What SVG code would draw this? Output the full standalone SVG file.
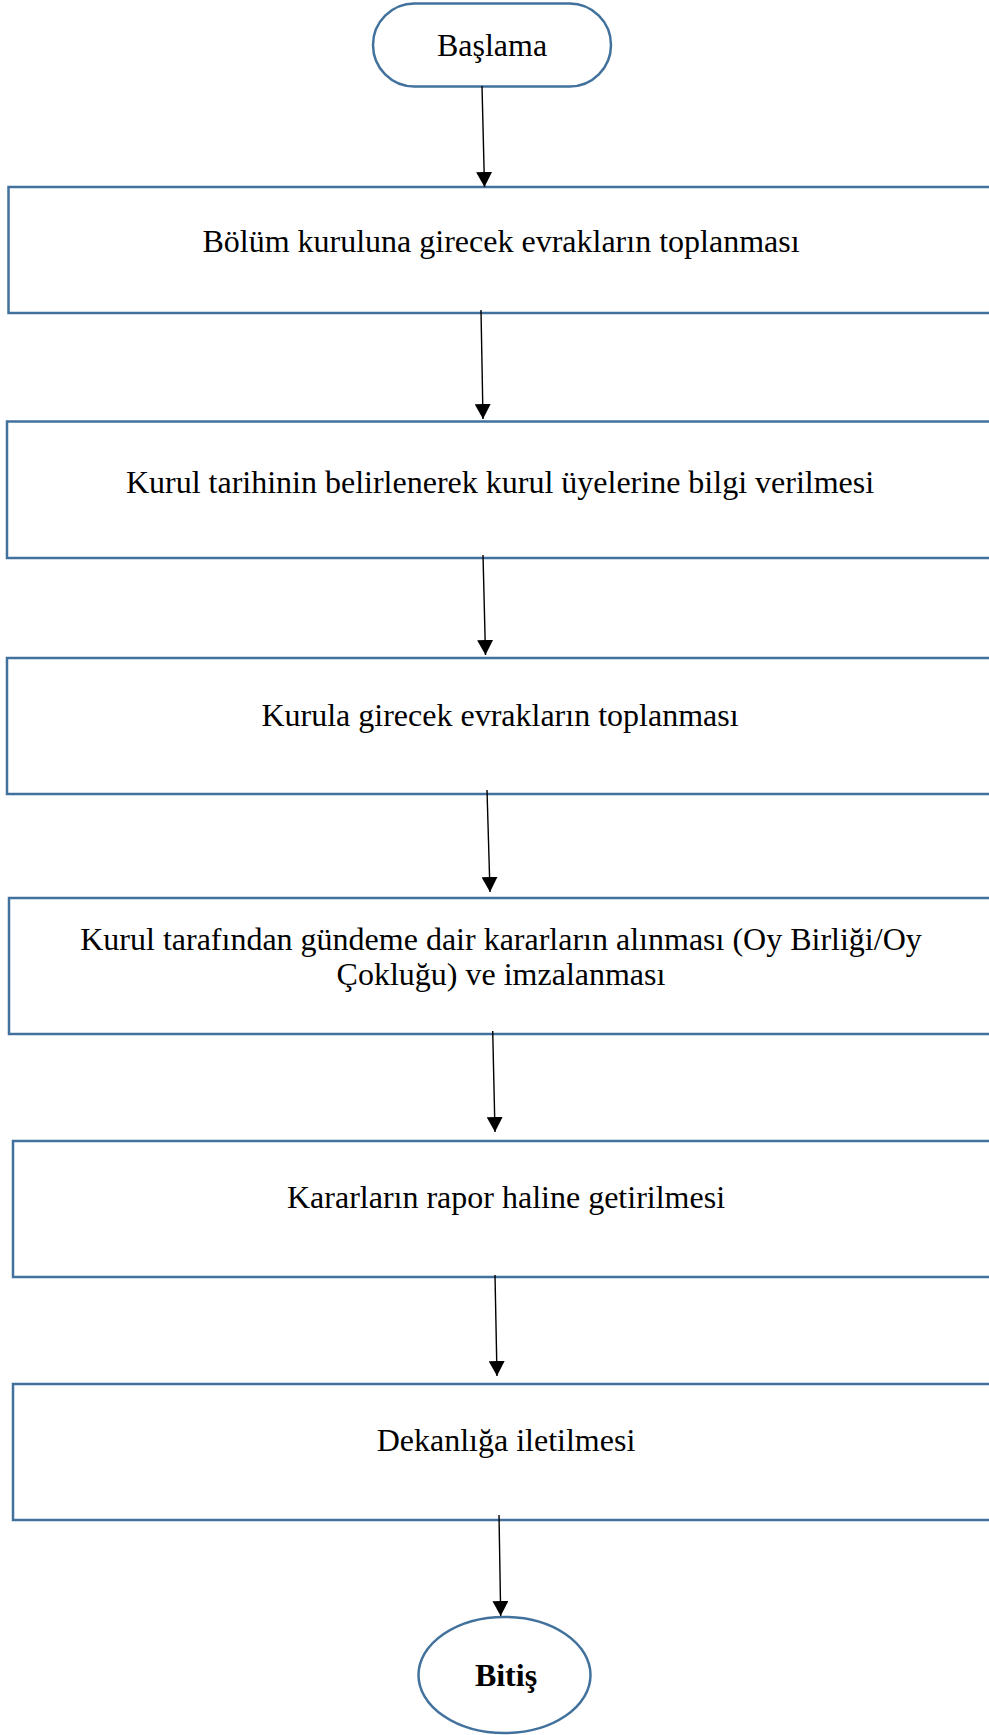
<svg xmlns="http://www.w3.org/2000/svg" width="989" height="1735" viewBox="0 0 989 1735">
<style>
.box{fill:#fff;stroke:#41719C;stroke-width:2.5}
.t{font-family:"Liberation Serif","Times New Roman",serif;font-size:32px;fill:#000;text-anchor:middle}
.b{font-weight:bold}
.c{stroke:#000;stroke-width:1.4;fill:none;marker-end:url(#ah)}
</style>
<defs>
<marker id="ah" markerUnits="userSpaceOnUse" markerWidth="16" markerHeight="16" refX="15" refY="8" orient="auto">
<path d="M0,0 L15,8 L0,16 Z" fill="#000"/>
</marker>
</defs>
<rect width="989" height="1735" fill="#fff"/>
<g id="start">
<rect class="box" x="373" y="3.5" width="238" height="83" rx="41.5" ry="41.5"/>
<text class="t" x="492" y="56">Başlama</text>
</g>
<g id="n1">
<rect class="box" x="8.5" y="187" width="1000" height="126"/>
<text class="t" x="501" y="252">Bölüm kuruluna girecek evrakların toplanması</text>
</g>
<g id="n2">
<rect class="box" x="7" y="421.5" width="1000" height="136.5"/>
<text class="t" x="500" y="493">Kurul tarihinin belirlenerek kurul üyelerine bilgi verilmesi</text>
</g>
<g id="n3">
<rect class="box" x="7" y="658" width="1000" height="136"/>
<text class="t" x="500" y="726">Kurula girecek evrakların toplanması</text>
</g>
<g id="n4">
<rect class="box" x="9" y="898" width="1000" height="136"/>
<text class="t" x="501" y="950">Kurul tarafından gündeme dair kararların alınması (Oy Birliği/Oy</text>
<text class="t" x="501" y="985">Çokluğu) ve imzalanması</text>
</g>
<g id="n5">
<rect class="box" x="13" y="1141" width="1000" height="136"/>
<text class="t" x="506" y="1208">Kararların rapor haline getirilmesi</text>
</g>
<g id="n6">
<rect class="box" x="13" y="1384" width="1000" height="136"/>
<text class="t" x="506" y="1451">Dekanlığa iletilmesi</text>
</g>
<g id="end">
<ellipse class="box" cx="504.5" cy="1675" rx="86" ry="58"/>
<text class="t b" x="506" y="1686">Bitiş</text>
</g>
<g id="connectors">
<line class="c" x1="482" y1="86" x2="484.5" y2="187"/>
<line class="c" x1="481" y1="310" x2="483" y2="419"/>
<line class="c" x1="483" y1="555" x2="485.5" y2="655"/>
<line class="c" x1="487" y1="790" x2="490" y2="892"/>
<line class="c" x1="492.7" y1="1031" x2="495" y2="1132"/>
<line class="c" x1="495" y1="1275" x2="497" y2="1376"/>
<line class="c" x1="499" y1="1515" x2="500.7" y2="1616"/>
</g>
</svg>
